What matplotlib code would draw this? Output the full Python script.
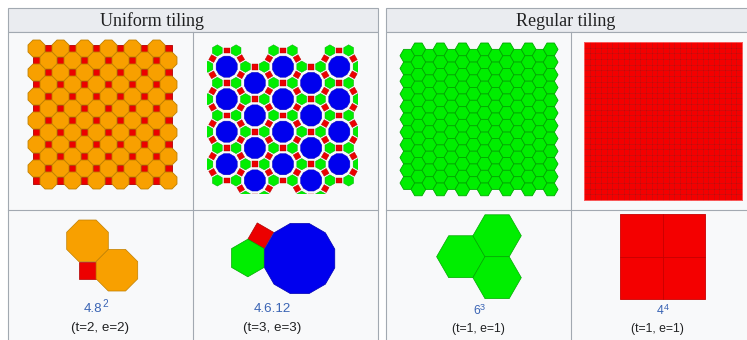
import numpy as np
import matplotlib
matplotlib.use('Agg')
import matplotlib.pyplot as plt
from matplotlib.patches import Rectangle
from matplotlib.collections import PolyCollection

# table text
headers = ['Uniform tiling', 'Regular tiling']
# vertex configuration: base text and exponent
vertex_base = ['4.8', '4.6.12', '6', '4']
vertex_exp = ['2', '', '3', '4']
te_labels = ['(t=2, e=2)', '(t=3, e=3)', '(t=1, e=1)', '(t=1, e=1)']
# polygons meeting at a vertex (number of sides)
vertex_figs = [[4, 8, 8], [4, 6, 12], [6, 6, 6], [4, 4, 4, 4]]

# how many tiles are seen in the top pictures
oct_rows, oct_per_row = 12, 6
dodec_cols, dodec_per_col = 5, 4
hex_cols, hex_per_col = 14, 12
square_cells = 28

fill = {4: '#ec0000', 6: '#00ee00', 8: '#f8a000', 12: '#0000ee'}
edge = {4: '#b00000', 6: '#00a800', 8: '#c08000', 12: '#0000b0'}

line_c = '#a2a9b1'
head_bg = '#eaecf0'
cell_bg = '#f8f9fa'
link_c = '#3a64b4'
text_c = '#202122'
sans = ['Liberation Sans', 'DejaVu Sans']


def ngon(cx, cy, n, r_in, normal=0.0):
    R = r_in / np.cos(np.pi / n)
    a = np.radians(normal) + np.pi / n + 2 * np.pi * np.arange(n) / n
    return np.column_stack([cx + R * np.cos(a), cy + R * np.sin(a)])


def add_polys(ax, polys, clip=None, lw=0.5):
    for n in sorted(set(p[0] for p in polys)):
        verts = [p[1] for p in polys if p[0] == n]
        pc = PolyCollection(verts, facecolors=fill[n], edgecolors=edge[n],
                            linewidths=lw, zorder=3)
        ax.add_collection(pc)
        if clip is not None:
            pc.set_clip_path(clip)


fig = plt.figure(figsize=(7.47, 3.40), dpi=100)
ax = fig.add_axes([0, 0, 1, 1])
ax.set_xlim(0, 747)
ax.set_ylim(340, 0)
ax.axis('off')

# ---- table frames
for x0, x1, xm, hx, title in [(8, 378, 193, 152, headers[0]),
                               (386, 770, 571, 566, headers[1])]:
    ax.add_patch(Rectangle((x0, 8), x1 - x0, 24, fc=head_bg, ec=line_c, lw=0.8, zorder=1))
    ax.add_patch(Rectangle((x0, 32), x1 - x0, 320, fc=cell_bg, ec=line_c, lw=0.8, zorder=1))
    ax.plot([xm, xm], [32, 345], color=line_c, lw=0.8, zorder=2)
    ax.plot([x0, x1], [209.5, 209.5], color=line_c, lw=0.8, zorder=2)
    ax.text(hx, 26.5, title, ha='center', va='baseline', fontsize=13,
            family=['Liberation Serif', 'DejaVu Serif'], color=text_c, zorder=4)

# ---- 4.8.8 tiling
h = 12.0
r8 = h / np.sqrt(2)
s8 = 2 * r8 * np.tan(np.pi / 8)
x0, y0 = 36.5, 48.5
polys = []
for j in range(oct_rows):
    y = y0 + j * h
    shift = h if j % 2 else 0.0
    for k in range(oct_per_row):
        polys.append((8, ngon(x0 + 2 * h * k + shift, y, 8, r8)))
        polys.append((4, ngon(x0 + 2 * h * k + h - shift, y, 4, s8 / 2)))
add_polys(ax, polys, lw=0.6)

# ---- 4.6.12 tiling
d = 32.5
s12 = d / (2 + 2 / (2 * np.tan(np.pi / 12)))
r12 = s12 / (2 * np.tan(np.pi / 12))
r6 = s12 * np.sqrt(3) / 2
cs = d * np.sqrt(3) / 2
centers = []
for c in range(dodec_cols):
    for k in range(dodec_per_col):
        centers.append((226.7 + c * cs, 66.7 + (c % 2) * d / 2 + k * d))
polys = []
seen = set()
for cx, cy in centers:
    polys.append((12, ngon(cx, cy, 12, r12)))
    for ang in range(0, 360, 60):
        a = np.radians(ang)
        hx_, hy_ = cx + d / np.sqrt(3) * np.cos(a), cy + d / np.sqrt(3) * np.sin(a)
        key = ('h', round(hx_, 1), round(hy_, 1))
        if key not in seen:
            seen.add(key)
            polys.append((6, ngon(hx_, hy_, 6, r6)))
        a2 = np.radians(ang + 30)
        qx, qy = cx + d / 2 * np.cos(a2), cy + d / 2 * np.sin(a2)
        key = ('s', round(qx, 1), round(qy, 1))
        if key not in seen:
            seen.add(key)
            polys.append((4, ngon(qx, qy, 4, s12 / 2, ang + 30)))
clip = Rectangle((207, 42), 151, 152, transform=ax.transData)
add_polys(ax, polys, clip, lw=0.3)

# ---- 6^3 tiling
R = 7.35
hh = np.sqrt(3) * R
polys = []
for c in range(hex_cols):
    cx = 400 + R + 1.5 * R * c
    if c % 2:
        ys = 43 + hh / 2 + hh * np.arange(hex_per_col)
    else:
        ys = 43 + hh + hh * np.arange(hex_per_col - 1)
    for cy in ys:
        polys.append((6, ngon(cx, cy, 6, hh / 2, 90)))
add_polys(ax, polys, lw=0.6)

# ---- 4^4 tiling
cell = 158 / square_cells
polys = []
for i in range(square_cells):
    for j in range(square_cells):
        polys.append(ngon(584 + cell * (i + 0.5), 42 + cell * (j + 0.5), 4, cell / 2))
ax.add_collection(PolyCollection(polys, facecolors='#f40000',
                                 edgecolors='#c40000', linewidths=0.4, zorder=3))
ax.add_patch(Rectangle((584, 42), 158, 158, fc='none', ec='#ff6060', lw=0.6, zorder=3))

# ---- vertex figures (bottom row)
# 4.8.8
ro = 20.8
so = 2 * ro * np.tan(np.pi / 8)
ox, oy = 87.5, 240.8
vf = [(8, ngon(ox, oy, 8, ro)),
      (8, ngon(ox + ro * np.sqrt(2), oy + ro * np.sqrt(2), 8, ro)),
      (4, ngon(ox, oy + ro + so / 2, 4, so / 2))]
# 4.6.12
sb = 18.8
rb12 = sb / (2 * np.tan(np.pi / 12))
rb6 = sb * np.sqrt(3) / 2
bx, by = 299.2, 258
a = np.radians(210)
vf += [(12, ngon(bx, by, 12, rb12)),
       (6, ngon(bx - rb12 - rb6, by, 6, rb6)),
       (4, ngon(bx + (rb12 + sb / 2) * np.cos(a), by + (rb12 + sb / 2) * np.sin(a), 4, sb / 2, 210))]
# 6.6.6
Rb = 24.2
jx, jy = 485, 256.7
for ang in [180, 300, 60]:
    a = np.radians(ang)
    vf.append((6, ngon(jx + Rb * np.cos(a), jy + Rb * np.sin(a), 6, Rb * np.sqrt(3) / 2, 90)))
add_polys(ax, vf)
# 4.4.4.4
q = 42.5
qs = [ngon(662.5 + dx * q / 2, 256.7 + dy * q / 2, 4, q / 2) for dx in (-1, 1) for dy in (-1, 1)]
ax.add_collection(PolyCollection(qs, facecolors='#f40000', edgecolors='#c80000',
                                 linewidths=0.6, zorder=3))

# ---- labels
# x where base text ends and exponent starts
lab_x = [102.5, 272.5, 480, 663.5]
lab_y = [311.5, 311.5, 314.5, 314.5]
te_x = [100, 271.7, 478.3, 657]
te_y = [330.5, 330.5, 332, 332]
sizes = [9.6, 9.6, 8.8, 8.8]
for i in range(4):
    if vertex_exp[i]:
        ax.text(lab_x[i], lab_y[i], vertex_base[i], ha='right', va='baseline',
                fontsize=sizes[i], family=sans, color=link_c, zorder=4)
        ax.text(lab_x[i] + 0.2, lab_y[i] - 4.2, vertex_exp[i], ha='left', va='baseline',
                fontsize=sizes[i] * 0.75, family=sans, color=link_c, zorder=4)
    else:
        ax.text(lab_x[i], lab_y[i], vertex_base[i], ha='center', va='baseline',
                fontsize=sizes[i], family=sans, color=link_c, zorder=4)
    ax.text(te_x[i], te_y[i], te_labels[i], ha='center', va='baseline',
            fontsize=sizes[i], family=sans, color=text_c, zorder=4)

fig.savefig('out.png', dpi=100)
